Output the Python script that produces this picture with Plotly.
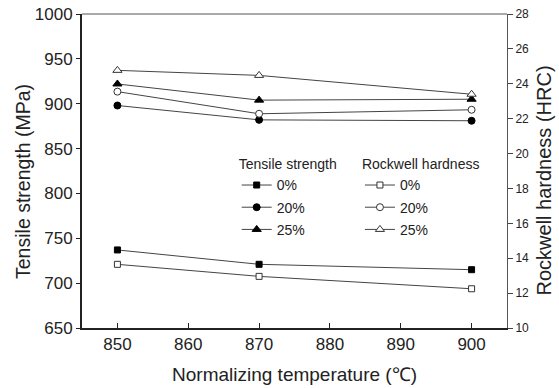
import plotly.graph_objects as go

temps = [850, 870, 900]
labels = ["0%", "20%", "25%"]
tensile = {
    "0%": [737, 721, 715],
    "20%": [898, 882, 881],
    "25%": [922, 904, 905],
}
hardness = {
    "0%": [13.65, 12.96, 12.25],
    "20%": [23.55, 22.28, 22.51],
    "25%": [24.77, 24.48, 23.40],
}
symbols = {"0%": "square", "20%": "circle", "25%": "triangle-up"}
sizes = {"0%": 6, "20%": 7, "25%": 8}

LINE = "#444444"
fig = go.Figure()
for i, lab in enumerate(labels):
    fig.add_trace(go.Scatter(
        x=temps, y=tensile[lab], mode="lines+markers", name=lab,
        line=dict(color=LINE, width=1),
        marker=dict(symbol=symbols[lab], size=sizes[lab], color="black",
                    line=dict(color="black", width=1)),
        legend="legend", legendgroup="t" + lab, yaxis="y"))
for i, lab in enumerate(labels):
    fig.add_trace(go.Scatter(
        x=temps, y=hardness[lab], mode="lines+markers", name=lab,
        line=dict(color=LINE, width=1),
        marker=dict(symbol=symbols[lab], size=sizes[lab], color="white",
                    line=dict(color="#333", width=1)),
        legend="legend2", legendgroup="h" + lab, yaxis="y2"))

font = "Liberation Sans, Arial, sans-serif"
leg = dict(bgcolor="rgba(0,0,0,0)", font=dict(size=14, color="#222", family=font),
           tracegroupgap=1, xanchor="left", yanchor="top", itemwidth=30)
fig.update_layout(
    width=559, height=388,
    margin=dict(l=82, r=52, t=14, b=60, autoexpand=False),
    paper_bgcolor="white", plot_bgcolor="white",
    font=dict(family=font, color="#222"),
    xaxis=dict(range=[845, 905], tickvals=[850, 860, 870, 880, 890, 900],
               ticks="inside", ticklen=5, tickcolor="#222", automargin=False,
               tickfont=dict(size=17), showgrid=False, zeroline=False,
               showline=True, linecolor="#222", linewidth=2, mirror=False,
               title=dict(text="Normalizing temperature (℃)", font=dict(size=19), standoff=14)),
    yaxis=dict(range=[650, 1000], tickvals=[650, 700, 750, 800, 850, 900, 950, 1000],
               ticks="outside", ticklen=4, tickcolor="#222", automargin=False,
               tickfont=dict(size=17), showgrid=False, zeroline=False,
               showline=True, linecolor="#222", linewidth=2),
    yaxis2=dict(range=[10, 28], tickvals=list(range(10, 29, 2)), overlaying="y", side="right",
                ticks="outside", ticklen=5, tickcolor="#444", automargin=False,
                tickfont=dict(size=12), showgrid=False, zeroline=False,
                showline=True, linecolor="#555", linewidth=1),
    legend=dict(x=0.364, y=0.563, title=dict(text="Tensile strength", font=dict(size=14)), **leg),
    legend2=dict(x=0.654, y=0.563, title=dict(text="Rockwell hardness", font=dict(size=14)), **leg),
    showlegend=True,
    annotations=[
        dict(text="Tensile strength (MPa)", textangle=-90, xref="paper", yref="paper",
             x=-0.139, y=0.468, xanchor="center", yanchor="middle", showarrow=False,
             font=dict(size=19.5, color="#222")),
        dict(text="Rockwell hardness (HRC)", textangle=-90, xref="paper", yref="paper",
             x=1.088, y=0.471, xanchor="center", yanchor="middle", showarrow=False,
             font=dict(size=20, color="#222")),
    ],
)
# top frame line
fig.add_shape(type="line", xref="paper", yref="paper", x0=0, x1=1, y0=1, y1=1,
              line=dict(color="#555", width=1))
# remove the default 8px page margin so the figure fills the window exactly
fig.write_html("out.html", config={"displayModeBar": False},
               post_script="document.body.style.margin='0';")
